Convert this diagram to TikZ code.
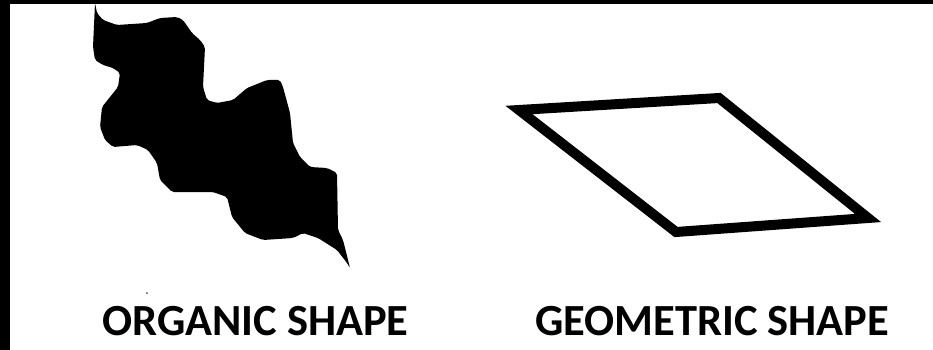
\documentclass[tikz,border=0pt]{standalone}
\usepackage{fontspec}
\setmainfont{Carlito}
\begin{document}
\begin{tikzpicture}[
  x=1pt, y=-1pt,
  shapetext/.style={font=\fontsize{44.5}{45}\selectfont\bfseries, inner sep=0pt, anchor=base west},
  blob/.style={fill=black, rounded corners=2pt},
  frameline/.style={draw=black, line width=10pt, line join=miter}
]
  \useasboundingbox (0,0) rectangle (933,350);
  \fill[white] (0,0) rectangle (933,350);
  % black edges of the scan
  \fill[black] (0,0) rectangle (933,4);
  \fill[black] (0,0) rectangle (10,350);

  % organic shape
  \fill[blob] (95,3) -- (93,47) -- (95,60) -- (103,65) -- (113,68) -- (120,73)
    -- (118,87) -- (110,97) -- (102,107) -- (100,127) -- (105,140) -- (113,147)
    -- (137,145) -- (148,150) -- (157,163) -- (160,180) -- (172,192) -- (213,192)
    -- (227,197) -- (232,217) -- (245,233) -- (263,240) -- (293,238) -- (303,233)
    -- (318,238) -- (337,250) -- (347,263) -- (350,268) -- (343,240) -- (338,230)
    -- (337,173) -- (327,168) -- (310,167) -- (300,157) -- (293,143) -- (290,113)
    -- (283,87) -- (280,80) -- (267,80) -- (247,88) -- (233,100) -- (217,103)
    -- (207,100) -- (203,87) -- (205,47) -- (200,40) -- (192,33) -- (183,20)
    -- (177,17) -- (160,18) -- (147,23) -- (117,25) -- (103,20) -- (97,13) -- cycle;
  \fill[black!70] (147,293) circle (1);

  % geometric shape
  \draw[frameline] (519,110) -- (719,98) -- (868,218) -- (676,232) -- cycle;

  \node[shapetext] (organic) at (102,335) {ORGANIC SHAPE};
  \node[shapetext] (geometric) at (535,335) {GEOMETRIC SHAPE};
\end{tikzpicture}
\end{document}
